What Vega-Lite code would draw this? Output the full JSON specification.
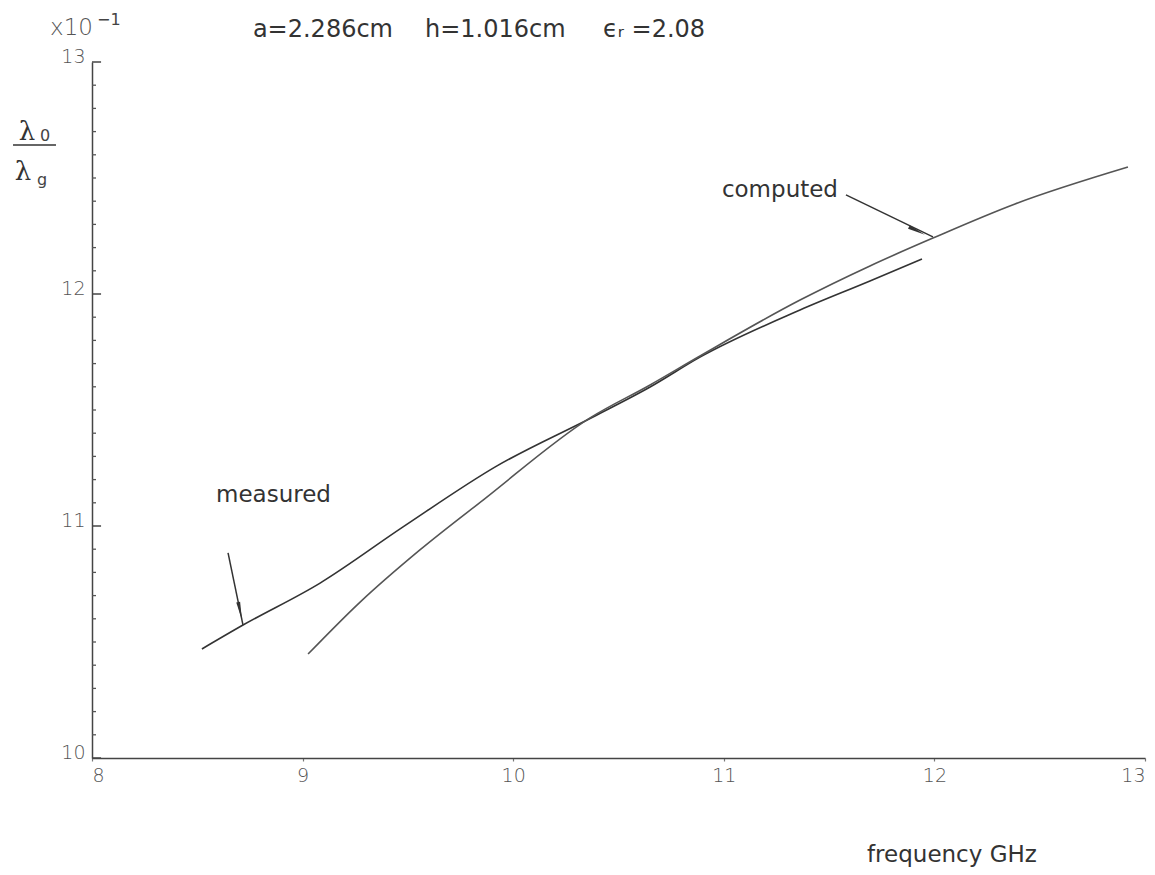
{
  "$schema": "https://vega.github.io/schema/vega-lite/v6.json",
  "width": 1053,
  "height": 696,
  "autosize": {"type": "none"},
  "padding": {"left": 92, "top": 62, "right": 10, "bottom": 117},
  "background": "white",
  "config": {"view": {"stroke": null}},
  "datasets": {
    "curves": [
      {"series": "measured", "f": 8.522, "v": 10.470},
      {"series": "measured", "f": 8.717, "v": 10.573},
      {"series": "measured", "f": 9.083, "v": 10.754},
      {"series": "measured", "f": 9.477, "v": 10.996},
      {"series": "measured", "f": 9.923, "v": 11.259},
      {"series": "measured", "f": 10.379, "v": 11.470},
      {"series": "measured", "f": 10.650, "v": 11.599},
      {"series": "measured", "f": 10.887, "v": 11.728},
      {"series": "measured", "f": 11.362, "v": 11.931},
      {"series": "measured", "f": 11.694, "v": 12.056},
      {"series": "measured", "f": 11.941, "v": 12.151},
      {"series": "computed", "f": 9.026, "v": 10.448},
      {"series": "computed", "f": 9.273, "v": 10.672},
      {"series": "computed", "f": 9.557, "v": 10.897},
      {"series": "computed", "f": 9.857, "v": 11.112},
      {"series": "computed", "f": 10.365, "v": 11.466},
      {"series": "computed", "f": 10.650, "v": 11.608},
      {"series": "computed", "f": 10.887, "v": 11.733},
      {"series": "computed", "f": 11.362, "v": 11.974},
      {"series": "computed", "f": 11.694, "v": 12.121},
      {"series": "computed", "f": 11.993, "v": 12.241},
      {"series": "computed", "f": 12.383, "v": 12.388},
      {"series": "computed", "f": 12.919, "v": 12.547}
    ],
    "segments": [
      {"f": 11.580, "v": 12.427, "f2": 11.993, "v2": 12.246},
      {"f": 8.646, "v": 10.884, "f2": 8.717, "v2": 10.573},
      {"f": 7.625, "v": 12.642, "f2": 7.829, "v2": 12.642}
    ],
    "majorTicks": [
      {"v": 10, "f": 8, "f2": 8.043}, {"v": 11, "f": 8, "f2": 8.043},
      {"v": 12, "f": 8, "f2": 8.043}, {"v": 13, "f": 8, "f2": 8.043}
    ],
    "minorTicks": [
      {"v": 10.1, "f": 8, "f2": 8.019}, {"v": 10.2, "f": 8, "f2": 8.019}, {"v": 10.3, "f": 8, "f2": 8.019},
      {"v": 10.4, "f": 8, "f2": 8.019}, {"v": 10.5, "f": 8, "f2": 8.019}, {"v": 10.6, "f": 8, "f2": 8.019},
      {"v": 10.7, "f": 8, "f2": 8.019}, {"v": 10.8, "f": 8, "f2": 8.019}, {"v": 10.9, "f": 8, "f2": 8.019},
      {"v": 11.1, "f": 8, "f2": 8.019}, {"v": 11.2, "f": 8, "f2": 8.019}, {"v": 11.3, "f": 8, "f2": 8.019},
      {"v": 11.4, "f": 8, "f2": 8.019}, {"v": 11.5, "f": 8, "f2": 8.019}, {"v": 11.6, "f": 8, "f2": 8.019},
      {"v": 11.7, "f": 8, "f2": 8.019}, {"v": 11.8, "f": 8, "f2": 8.019}, {"v": 11.9, "f": 8, "f2": 8.019},
      {"v": 12.1, "f": 8, "f2": 8.019}, {"v": 12.2, "f": 8, "f2": 8.019}, {"v": 12.3, "f": 8, "f2": 8.019},
      {"v": 12.4, "f": 8, "f2": 8.019}, {"v": 12.5, "f": 8, "f2": 8.019}, {"v": 12.6, "f": 8, "f2": 8.019},
      {"v": 12.7, "f": 8, "f2": 8.019}, {"v": 12.8, "f": 8, "f2": 8.019}, {"v": 12.9, "f": 8, "f2": 8.019}
    ],
    "titles": [
      {"text": "a=2.286cm", "f": 8.764, "v": 13.138},
      {"text": "h=1.016cm", "f": 9.581, "v": 13.138},
      {"text": "ϵᵣ =2.08", "f": 10.426, "v": 13.138}
    ],
    "annots": [
      {"text": "measured", "f": 8.589, "v": 11.134},
      {"text": "computed", "f": 10.991, "v": 12.448},
      {"text": "frequency GHz", "f": 11.680, "v": 9.582}
    ],
    "lambdas": [
      {"text": "λ", "f": 7.691, "v": 12.698},
      {"text": "λ", "f": 7.672, "v": 12.526}
    ],
    "subs": [
      {"text": "0", "f": 7.777, "v": 12.681},
      {"text": "g", "f": 7.763, "v": 12.491},
      {"text": "−1", "f": 8.080, "v": 13.181}
    ],
    "mult": [
      {"text": "x10", "f": 7.801, "v": 13.147}
    ],
    "headComputed": [{"f": 11.917, "v": 12.272}],
    "headMeasured": [{"f": 8.703, "v": 10.634}]
  },
  "resolve": {"axis": {"x": "independent", "y": "independent"}},
  "layer": [
    {
      "data": {"name": "curves"},
      "mark": {"type": "line", "strokeWidth": 1.6, "interpolate": "monotone"},
      "encoding": {
        "x": {
          "field": "f", "type": "quantitative",
          "scale": {"domain": [8, 13], "nice": false, "zero": false},
          "axis": {
            "values": [8, 9, 10, 11, 12, 13], "format": "d", "title": null, "grid": false,
            "domainColor": "#444", "domainWidth": 1.5,
            "tickColor": "#777", "tickSize": 3, "tickWidth": 1.2,
            "labelFont": "DejaVu Sans", "labelFontWeight": 300, "labelFontSize": 19, "labelColor": "#555",
            "labelPadding": 5, "labelFlush": true
          }
        },
        "y": {
          "field": "v", "type": "quantitative",
          "scale": {"domain": [10, 13], "nice": false, "zero": false},
          "axis": {
            "values": [10, 11, 12, 13], "format": "d", "title": null, "grid": false, "orient": "left",
            "domainColor": "#444", "domainWidth": 1.5, "ticks": false,
            "labelFont": "DejaVu Sans", "labelFontWeight": 300, "labelFontSize": 19, "labelColor": "#555",
            "labelPadding": 7, "labelBaseline": "alphabetic"
          }
        },
        "color": {
          "field": "series", "type": "nominal",
          "scale": {"domain": ["measured", "computed"], "range": ["#333333", "#555555"]},
          "legend": null
        }
      }
    },
    {
      "data": {"name": "majorTicks"},
      "mark": {"type": "rule", "color": "#444", "strokeWidth": 1.5},
      "encoding": {
        "x": {"field": "f", "type": "quantitative", "axis": null},
        "x2": {"field": "f2"},
        "y": {"field": "v", "type": "quantitative", "axis": null}
      }
    },
    {
      "data": {"name": "minorTicks"},
      "mark": {"type": "rule", "color": "#555", "strokeWidth": 1.3},
      "encoding": {
        "x": {"field": "f", "type": "quantitative", "axis": null},
        "x2": {"field": "f2"},
        "y": {"field": "v", "type": "quantitative", "axis": null}
      }
    },
    {
      "data": {"name": "segments"},
      "mark": {"type": "rule", "color": "#333", "strokeWidth": 1.5},
      "encoding": {
        "x": {"field": "f", "type": "quantitative", "axis": null},
        "y": {"field": "v", "type": "quantitative", "axis": null},
        "x2": {"field": "f2"},
        "y2": {"field": "v2"}
      }
    },
    {
      "data": {"name": "titles"},
      "mark": {"type": "text", "font": "DejaVu Sans", "fontSize": 24, "color": "#333", "align": "left", "baseline": "middle"},
      "encoding": {
        "x": {"field": "f", "type": "quantitative", "axis": null},
        "y": {"field": "v", "type": "quantitative", "axis": null},
        "text": {"field": "text"}
      }
    },
    {
      "data": {"name": "annots"},
      "mark": {"type": "text", "font": "DejaVu Sans", "fontSize": 23, "color": "#333", "align": "left", "baseline": "middle"},
      "encoding": {
        "x": {"field": "f", "type": "quantitative", "axis": null},
        "y": {"field": "v", "type": "quantitative", "axis": null},
        "text": {"field": "text"}
      }
    },
    {
      "data": {"name": "lambdas"},
      "mark": {"type": "text", "font": "DejaVu Serif", "fontSize": 26, "color": "#333", "align": "center", "baseline": "middle"},
      "encoding": {
        "x": {"field": "f", "type": "quantitative", "axis": null},
        "y": {"field": "v", "type": "quantitative", "axis": null},
        "text": {"field": "text"}
      }
    },
    {
      "data": {"name": "subs"},
      "mark": {"type": "text", "font": "DejaVu Sans", "fontSize": 16, "color": "#444", "align": "center", "baseline": "middle"},
      "encoding": {
        "x": {"field": "f", "type": "quantitative", "axis": null},
        "y": {"field": "v", "type": "quantitative", "axis": null},
        "text": {"field": "text"}
      }
    },
    {
      "data": {"name": "mult"},
      "mark": {"type": "text", "font": "DejaVu Sans", "fontWeight": 300, "fontSize": 23, "color": "#555", "align": "left", "baseline": "middle"},
      "encoding": {
        "x": {"field": "f", "type": "quantitative", "axis": null},
        "y": {"field": "v", "type": "quantitative", "axis": null},
        "text": {"field": "text"}
      }
    },
    {
      "data": {"name": "headComputed"},
      "mark": {"type": "point", "shape": "M-1,-0.22L1,0L-1,0.22Z", "filled": true, "color": "#333", "opacity": 1, "size": 320, "angle": 26},
      "encoding": {
        "x": {"field": "f", "type": "quantitative", "axis": null},
        "y": {"field": "v", "type": "quantitative", "axis": null}
      }
    },
    {
      "data": {"name": "headMeasured"},
      "mark": {"type": "point", "shape": "M-1,-0.22L1,0L-1,0.22Z", "filled": true, "color": "#333", "opacity": 1, "size": 320, "angle": 78},
      "encoding": {
        "x": {"field": "f", "type": "quantitative", "axis": null},
        "y": {"field": "v", "type": "quantitative", "axis": null}
      }
    }
  ]
}
